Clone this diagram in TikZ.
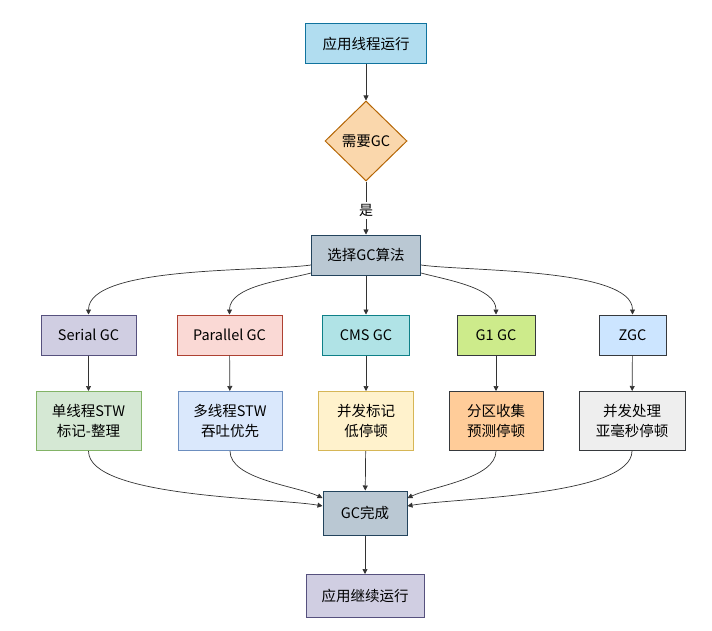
\documentclass[tikz,border=0pt]{standalone}
\usepackage{fontspec}
\setmainfont{Noto Sans CJK SC}
\usetikzlibrary{arrows.meta}
\usetikzlibrary{shapes.geometric}

\definecolor{runfill}{HTML}{B1DDF0}\definecolor{rundraw}{HTML}{10739E}
\definecolor{askfill}{HTML}{FAD7AC}\definecolor{askdraw}{HTML}{B46504}
\definecolor{selfill}{HTML}{BAC8D3}\definecolor{seldraw}{HTML}{23445D}
\definecolor{purfill}{HTML}{D0CEE2}\definecolor{purdraw}{HTML}{56517E}
\definecolor{redfill}{HTML}{FAD9D5}\definecolor{reddraw}{HTML}{AE4132}
\definecolor{tealfill}{HTML}{B0E3E6}\definecolor{tealdraw}{HTML}{0E8088}
\definecolor{limefill}{HTML}{CDEB8B}\definecolor{darkdraw}{HTML}{36393D}
\definecolor{skyfill}{HTML}{CCE5FF}
\definecolor{grnfill}{HTML}{D5E8D4}\definecolor{grndraw}{HTML}{82B366}
\definecolor{bluefill}{HTML}{DAE8FC}\definecolor{bluedraw}{HTML}{6C8EBF}
\definecolor{yelfill}{HTML}{FFF2CC}\definecolor{yeldraw}{HTML}{D6B656}
\definecolor{orgfill}{HTML}{FFCC99}
\definecolor{greyfill}{HTML}{EEEEEE}

\tikzset{
  box/.style={draw, line width=1pt, rectangle, align=center, inner sep=0pt,
    font=\fontsize{14.5}{19.5}\selectfont},
  link/.style={draw=black!80, line width=0.7pt, -{Triangle[length=5pt,width=5pt]}}
}

\begin{document}
\begin{tikzpicture}[x=1pt,y=1pt]

    \useasboundingbox (0,0) rectangle (712,-631);

    % top of the chart
    \node[box, fill=runfill, draw=rundraw, minimum width=121, minimum height=40] (run) at (366,-44) {应用线程运行};
    \node[box, diamond, aspect=1, fill=askfill, draw=askdraw, minimum width=82, minimum height=80] (ask) at (366,-141) {需要GC};
    \node[box, fill=selfill, draw=seldraw, minimum width=109, minimum height=40] (sel) at (366,-255) {选择GC算法};

    % collectors
    \node[box, fill=purfill, draw=purdraw, minimum width=95, minimum height=40] (serial) at (88.5,-335) {Serial GC};
    \node[box, fill=redfill, draw=reddraw, minimum width=105, minimum height=40] (parallel) at (229.5,-335) {Parallel GC};
    \node[box, fill=tealfill, draw=tealdraw, minimum width=87, minimum height=40] (cms) at (366,-335) {CMS GC};
    \node[box, fill=limefill, draw=darkdraw, minimum width=78, minimum height=40] (gone) at (496,-335) {G1 GC};
    \node[box, fill=skyfill, draw=darkdraw, minimum width=67, minimum height=40] (zgc) at (632.5,-335) {ZGC};

    % what each one does
    \node[box, fill=grnfill, draw=grndraw, minimum width=105, minimum height=59] (serialnote) at (88.5,-421) {单线程STW\\标记-整理};
    \node[box, fill=bluefill, draw=bluedraw, minimum width=104, minimum height=59] (parallelnote) at (230,-421) {多线程STW\\吞吐优先};
    \node[box, fill=yelfill, draw=yeldraw, minimum width=95, minimum height=59] (cmsnote) at (366,-421) {并发标记\\低停顿};
    \node[box, fill=orgfill, draw=darkdraw, minimum width=94, minimum height=59] (gonenote) at (496,-421) {分区收集\\预测停顿};
    \node[box, fill=greyfill, draw=darkdraw, minimum width=106, minimum height=59] (zgcnote) at (632,-421) {并发处理\\亚毫秒停顿};

    % bottom of the chart
    \node[box, fill=selfill, draw=seldraw, minimum width=84, minimum height=44] (done) at (365,-513) {GC完成};
    \node[box, fill=purfill, draw=purdraw, minimum width=118, minimum height=43] (resume) at (365,-596) {应用继续运行};

    % straight links
    \draw[link] (run) -- (ask);
    \draw[link] (ask) -- (sel) node[pos=0.55, fill=white, inner sep=2pt, font=\fontsize{14}{16}\selectfont] (yes) {是};
    \draw[link] (sel) -- (cms);
    \draw[link] (serial) -- (serialnote);
    \draw[link] (parallel) -- (parallelnote);
    \draw[link] (cms) -- (cmsnote);
    \draw[link] (gone) -- (gonenote);
    \draw[link] (zgc) -- (zgcnote);
    \draw[link] (cmsnote) -- (done);
    \draw[link] (done) -- (resume);

    % curved links
    \draw[link] ([yshift=-10pt]sel.west) to[out=188,in=90,looseness=0.55] (serial.north);
    \draw[link] ([yshift=-18pt]sel.west) to[out=195,in=90,looseness=0.8] (parallel.north);
    \draw[link] ([yshift=-18pt]sel.east) to[out=-15,in=90,looseness=0.8] (gone.north);
    \draw[link] ([yshift=-10pt]sel.east) to[out=-8,in=90,looseness=0.55] (zgc.north);

    \draw[link] (serialnote.south) to[out=-90,in=170,looseness=0.5] ([yshift=7pt]done.west);
    \draw[link] (parallelnote.south) to[out=-90,in=155,looseness=0.7] ([yshift=15pt]done.west);
    \draw[link] (gonenote.south) to[out=-90,in=25,looseness=0.7] ([yshift=15pt]done.east);
    \draw[link] (zgcnote.south) to[out=-90,in=10,looseness=0.5] ([yshift=7pt]done.east);

\end{tikzpicture}
\end{document}
